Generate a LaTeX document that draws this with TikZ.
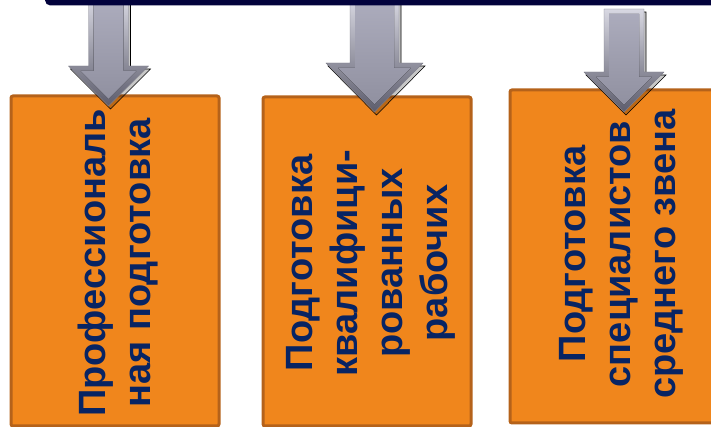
\documentclass[tikz,border=0pt]{standalone}
\usepackage{fontspec}
\setmainfont{Liberation Sans}
\usepackage{tikz}

\definecolor{barnavy}{RGB}{2,2,60}
\definecolor{boxorange}{RGB}{240,134,28}
\definecolor{boxbrown}{RGB}{181,98,26}
\definecolor{textnavy}{RGB}{8,36,99}
\definecolor{arrowhi}{RGB}{216,216,226}
\definecolor{arrowlo}{RGB}{92,92,108}
\definecolor{arrowface}{RGB}{164,164,182}

\tikzset{
  stagebox/.style={draw=boxbrown, fill=boxorange, line width=2.25pt, rounded corners=1.5pt, inner sep=0pt},
  stagetext/.style={rotate=90, align=center, text=textnavy, inner sep=0pt,
    font=\fontsize{28.5}{33.75}\selectfont\bfseries},
  arrowrim/.style={top color=arrowhi, bottom color=arrowlo, draw=arrowlo!80, line width=0.3pt},
  arrowtop/.style={top color=arrowface!92!white, bottom color=arrowface!88!black},
  arrowshade/.style={fill=black, fill opacity=0.22}
}

\begin{document}
\begin{tikzpicture}[x=0.75pt,y=0.75pt,yscale=-1,xscale=1]
\useasboundingbox (0,0) rectangle (711,427);
\clip (0,0) rectangle (711,427);

% boxes
\node [stagebox, minimum width=156pt, minimum height=247.5pt] (box1) at (115,261) {};
\node [stagebox, minimum width=156pt, minimum height=246.75pt] (box2) at (367,261.5) {};
\node [stagebox, minimum width=168.75pt, minimum height=249.75pt] (box3) at (622.5,256.5) {};

% Text Node
\node [stagetext] (lbl1) at (118,263) {Профессиональ\\ная подготовка};
% Text Node
\node [stagetext] (lbl2) at (371,263) {Подготовка\\квалифици-\\рованных\\рабочих};
% Text Node
\node [stagetext] (lbl3) at (621,254) {Подготовка\\специалистов\\среднего звена};

% arrow shadows
\draw [arrowshade, shift={(2,3)}] (88.5,-2) -- (128.5,-2) -- (128.5,66) -- (148.5,66) -- (108.5,106) -- (68.5,66) -- (88.5,66) -- cycle ;
\draw [arrowshade, shift={(2,3)}] (350,-2) -- (399,-2) -- (399,63) -- (423,63) -- (374.5,112) -- (326,63) -- (350,63) -- cycle ;
\draw [arrowshade, shift={(2,3)}] (604,9) -- (644,9) -- (644,72) -- (664,72) -- (624,112) -- (584,72) -- (604,72) -- cycle ;

% Block Arrow 1
\draw [arrowrim] (88.5,-2) -- (128.5,-2) -- (128.5,66) -- (148.5,66) -- (108.5,106) -- (68.5,66) -- (88.5,66) -- cycle ;
\fill [arrowtop] (93.5,3) -- (123.5,3) -- (123.5,71) -- (136.4,71) -- (108.5,98.9) -- (80.6,71) -- (93.5,71) -- cycle ;
% Block Arrow 2
\draw [arrowrim] (350,-2) -- (399,-2) -- (399,63) -- (423,63) -- (374.5,112) -- (326,63) -- (350,63) -- cycle ;
\fill [arrowtop] (355,3) -- (394,3) -- (394,68) -- (410.9,68) -- (374.5,104.4) -- (338.1,68) -- (355,68) -- cycle ;
% Block Arrow 3
\draw [arrowrim] (604,9) -- (644,9) -- (644,72) -- (664,72) -- (624,112) -- (584,72) -- (604,72) -- cycle ;
\fill [arrowtop] (609,14) -- (639,14) -- (639,77) -- (651.9,77) -- (624,104.9) -- (596.1,77) -- (609,77) -- cycle ;

% top bar
\fill [barnavy, rounded corners=4pt] (45,-10) rectangle (720,5.5) ;

\end{tikzpicture}
\end{document}
